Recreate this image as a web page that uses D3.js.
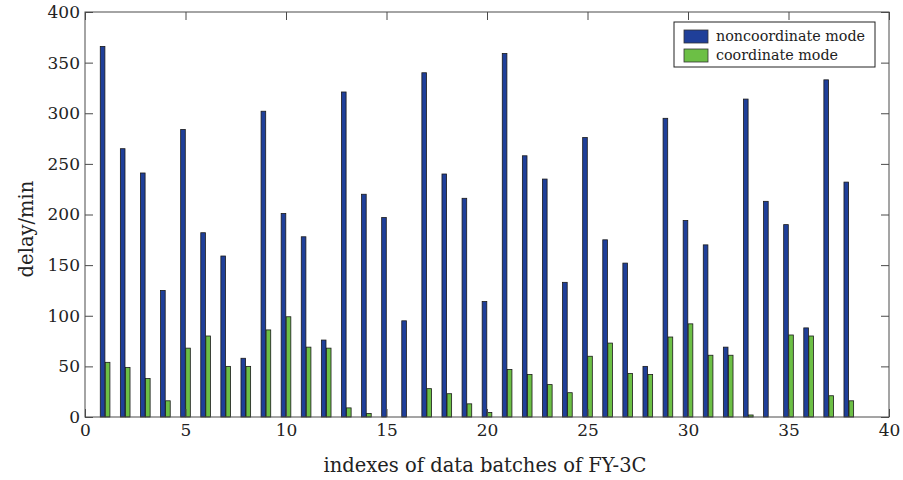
<!DOCTYPE html>
<html>
<head>
<meta charset="utf-8">
<script src="https://cdn.jsdelivr.net/npm/d3@7/dist/d3.min.js"></script>
<style>
  body { margin: 0; background: #fff; }
  svg { display: block; }
  text { font-family: "DejaVu Serif", "Liberation Serif", serif; fill: #222; }
</style>
</head>
<body>
<svg id="chart" width="903" height="480"></svg>
<script>
const batches = d3.range(1, 39);
const noncoordinate = [366, 265, 241, 125, 284, 182, 159, 58, 302, 201,
                       178, 76, 321, 220, 197, 95, 340, 240, 216, 114,
                       359, 258, 235, 133, 276, 175, 152, 50, 295, 194,
                       170, 69, 314, 213, 190, 88, 333, 232];
const coordinate = [54, 49, 38, 16, 68, 80, 50, 50, 86, 99,
                    69, 68, 9, 3.5, 0, 0, 28, 23, 13, 4.5,
                    47, 42, 32, 24, 60, 73, 43, 42, 79, 92,
                    61, 61, 2, 0, 81, 80, 21, 16];
const seriesNames = ["noncoordinate mode", "coordinate mode"];
const seriesColors = ["#1f3f99", "#6cbf45"];
const xTicks = [0, 5, 10, 15, 20, 25, 30, 35, 40];
const yTicks = [0, 50, 100, 150, 200, 250, 300, 350, 400];

const svg = d3.select("#chart");
const L = 85, R = 889, T = 12, B = 417;
const x = d3.scaleLinear().domain([0, 40]).range([L, R]);
const y = d3.scaleLinear().domain([0, 400]).range([B, T]);
const axisColor = "#4a4a4a";
const tickLen = 8;

// bars
const bw = 0.23, gap = 0.01;
const g = svg.append("g");
g.selectAll("rect.nc").data(batches).join("rect")
  .attr("class", "nc")
  .attr("x", d => x(d - gap - bw))
  .attr("width", d => x(bw) - x(0))
  .attr("y", (d, i) => y(noncoordinate[i]))
  .attr("height", (d, i) => y(0) - y(noncoordinate[i]))
  .attr("fill", seriesColors[0])
  .attr("stroke", "#1a1a1a").attr("stroke-width", 0.8);
g.selectAll("rect.co").data(batches).join("rect")
  .attr("class", "co")
  .attr("x", d => x(d + gap))
  .attr("width", d => x(bw) - x(0))
  .attr("y", (d, i) => y(coordinate[i]))
  .attr("height", (d, i) => y(0) - y(coordinate[i]))
  .attr("fill", seriesColors[1])
  .attr("stroke", "#1a1a1a").attr("stroke-width", 0.8);

// axes
function styleAxis(sel) {
  sel.select(".domain").remove();
  sel.selectAll(".tick line").attr("stroke", axisColor).attr("stroke-width", 1);
  sel.selectAll(".tick text").attr("font-size", 17).attr("fill", "#222")
     .attr("font-family", '"DejaVu Serif", serif');
}
const xAxis = svg.append("g").attr("transform", `translate(0,${B})`)
  .call(d3.axisBottom(x).tickValues(xTicks).tickSizeInner(-tickLen).tickSizeOuter(0).tickPadding(7).tickFormat(d3.format("d")));
styleAxis(xAxis);
const xAxisTop = svg.append("g").attr("transform", `translate(0,${T})`)
  .call(d3.axisTop(x).tickValues(xTicks).tickSizeInner(-tickLen).tickSizeOuter(0).tickFormat(""));
styleAxis(xAxisTop);
const yAxis = svg.append("g").attr("transform", `translate(${L},0)`)
  .call(d3.axisLeft(y).tickValues(yTicks).tickSizeInner(-tickLen).tickSizeOuter(0).tickPadding(5).tickFormat(d3.format("d")));
styleAxis(yAxis);
const yAxisRight = svg.append("g").attr("transform", `translate(${R},0)`)
  .call(d3.axisRight(y).tickValues(yTicks).tickSizeInner(-tickLen).tickSizeOuter(0).tickFormat(""));
styleAxis(yAxisRight);

svg.append("rect").attr("x", L).attr("y", T).attr("width", R - L).attr("height", B - T)
  .attr("fill", "none").attr("stroke", axisColor).attr("stroke-width", 1);

// labels
svg.append("text").attr("x", (L + R) / 2 - 2).attr("y", 472)
  .attr("text-anchor", "middle").attr("font-size", 19.5)
  .text("indexes of data batches of FY-3C");
svg.append("text").attr("transform", "translate(33,229) rotate(-90)")
  .attr("text-anchor", "middle").attr("font-size", 19.5)
  .text("delay/min");

// legend
const lg = svg.append("g");
lg.append("rect").attr("x", 674).attr("y", 22).attr("width", 201).attr("height", 45)
  .attr("fill", "#fff").attr("stroke", "#222").attr("stroke-width", 1);
seriesNames.forEach((name, i) => {
  const yy = 30 + i * 19;
  lg.append("rect").attr("x", 684).attr("y", yy).attr("width", 24).attr("height", 13)
    .attr("fill", seriesColors[i]).attr("stroke", "#333").attr("stroke-width", 0.8);
  lg.append("text").attr("x", 716).attr("y", yy + 11).attr("font-size", 14.3)
    .text(name);
});
</script>
</body>
</html>
